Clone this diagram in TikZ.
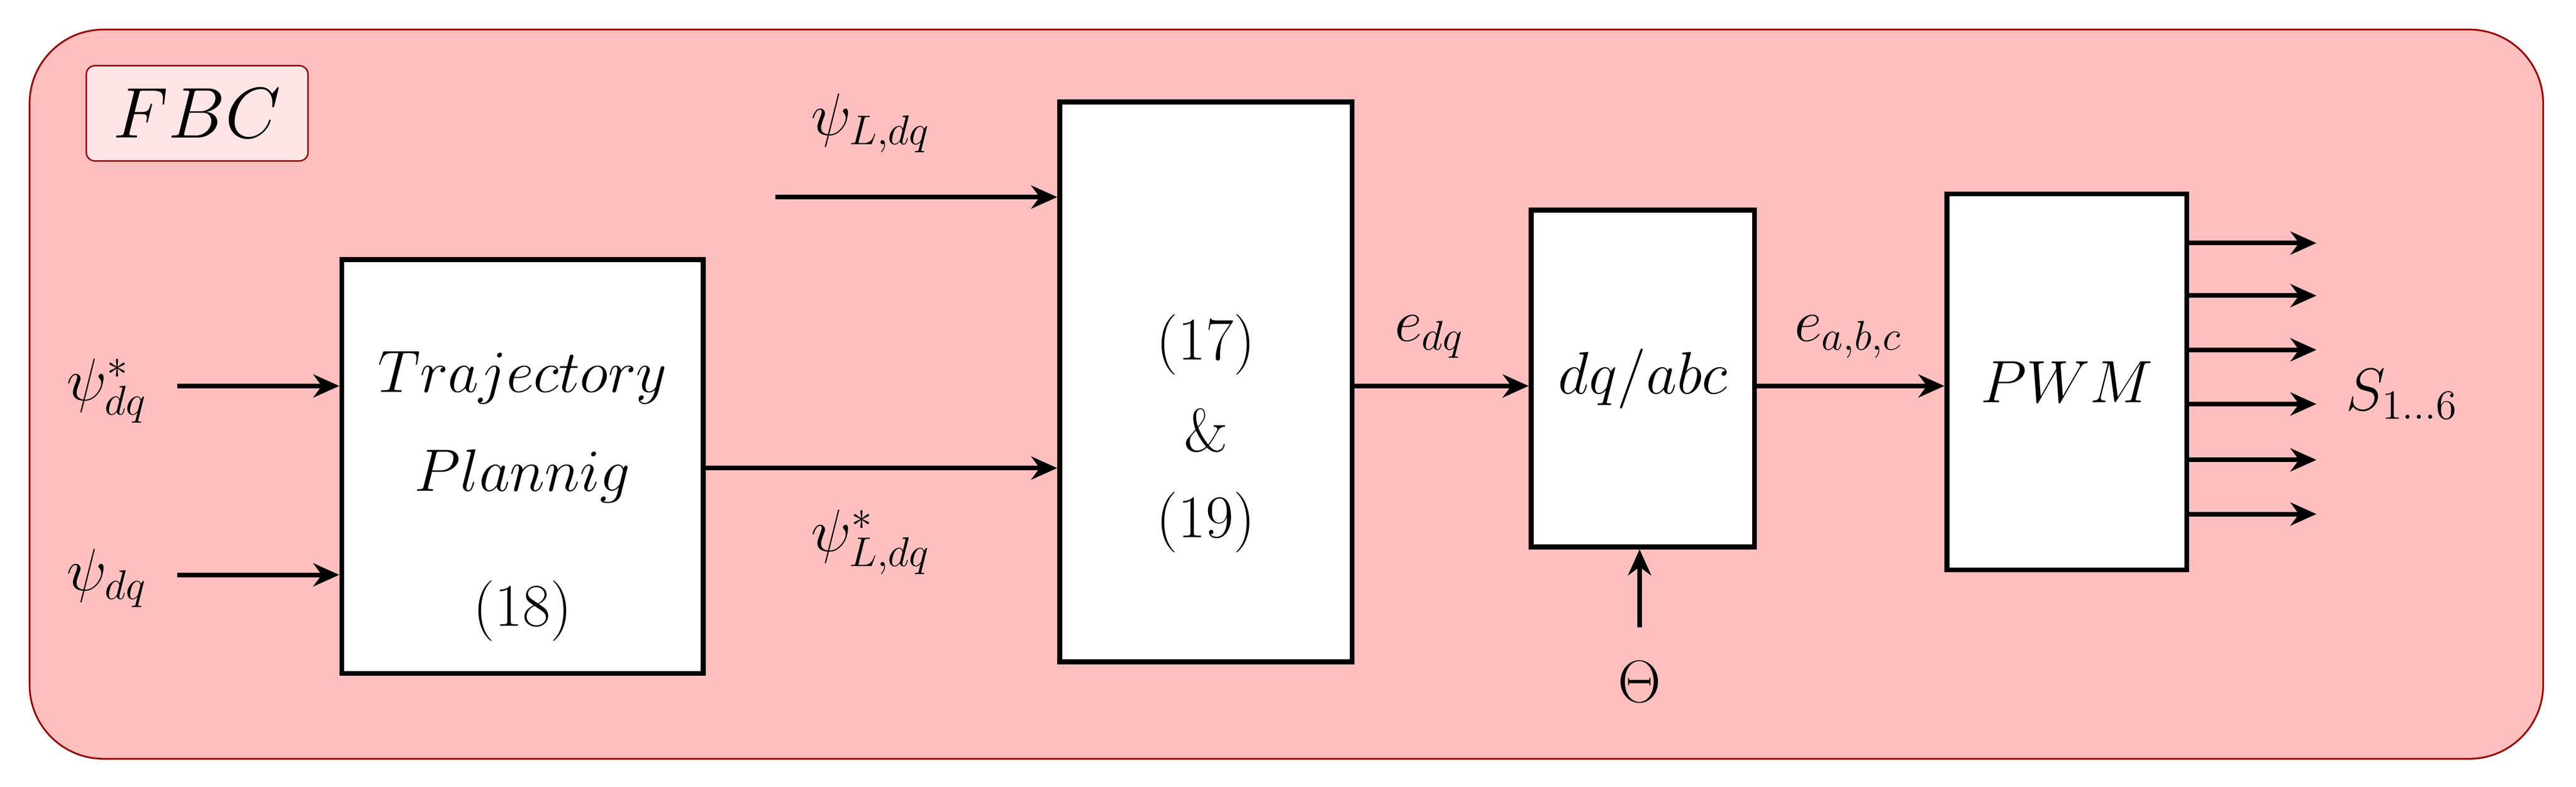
\documentclass[tikz,border=0pt]{standalone}
\usetikzlibrary{arrows.meta}
\begin{document}
\begin{tikzpicture}[x=0.02cm,y=-0.02cm,
  blk/.style={draw,line width=1.7pt,fill=white},
  arr/.style={line width=1.6pt,-{Stealth[length=9pt,width=8pt]}},
  txt/.style={font=\fontsize{21}{25}\selectfont,inner sep=0pt}]
\useasboundingbox (0,0) rectangle (1568,479);
\draw[draw=red!60!black,fill=red!25,line width=0.6pt,rounded corners=0.9cm] (18,18) rectangle (1548,462);
\node[draw=red!60!black,fill=red!10,line width=0.5pt,rounded corners=3pt,minimum width=2.7cm,minimum height=1.16cm,font=\fontsize{25}{30}\selectfont,inner sep=0pt] (fbc) at (120,69) {$FBC$};
\node[blk,minimum width=4.4cm,minimum height=5.04cm] (tp) at (318,284) {};
\node[txt] (tp1) at (318,230) {$Trajectory$};
\node[txt] (tp2) at (318,290) {$Plannig$};
\node[txt] (tp3) at (318,372) {(18)};
\node[blk,minimum width=3.56cm,minimum height=6.82cm] (eq) at (734,232.5) {};
\node[txt] (e1) at (734,210) {(17)};
\node[txt] (e2) at (734,262) {\&};
\node[txt] (e3) at (734,318) {(19)};
\node[blk,minimum width=2.72cm,minimum height=4.1cm,txt] (dq) at (1000,230.5) {$dq/abc$};
\node[blk,minimum width=2.92cm,minimum height=4.58cm,txt] (pwm) at (1258,232.5) {$PWM$};
\node[txt] (l1) at (65,238) {$\psi^*_{dq}$};
\node[txt] (l2) at (65,352) {$\psi_{dq}$};
\coordinate (a1) at (108,235); \coordinate (a2) at (108,350);
\draw[arr] (a1) -- (a1-|tp.west);
\draw[arr] (a2) -- (a2-|tp.west);
\node[txt] (l3) at (530,75) {$\psi_{L,dq}$};
\coordinate (b1) at (472,120);
\draw[arr] (b1) -- (b1-|eq.west);
\coordinate (c1) at (428,285);
\draw[arr] (c1) -- (c1-|eq.west);
\node[txt] (l4) at (530,330) {$\psi^*_{L,dq}$};
\coordinate (d1) at (823,235);
\draw[arr] (d1) -- (d1-|dq.west);
\node[txt] (l5) at (870,205) {$e_{dq}$};
\coordinate (f1) at (1068,235);
\draw[arr] (f1) -- (f1-|pwm.west);
\node[txt] (l6) at (1125,205) {$e_{a,b,c}$};
\node[txt] (th) at (998,415) {$\Theta$};
\coordinate (g1) at (998,382);
\draw[arr] (g1) -- (g1|-dq.south);
\foreach \y in {148,180,213,246,280,313}{
  \coordinate (o\y) at (1410,\y);
  \draw[arr] (o\y-|pwm.east) -- (o\y);}
\node[txt] (s) at (1462,240) {$S_{1\ldots6}$};
\end{tikzpicture}
\end{document}
